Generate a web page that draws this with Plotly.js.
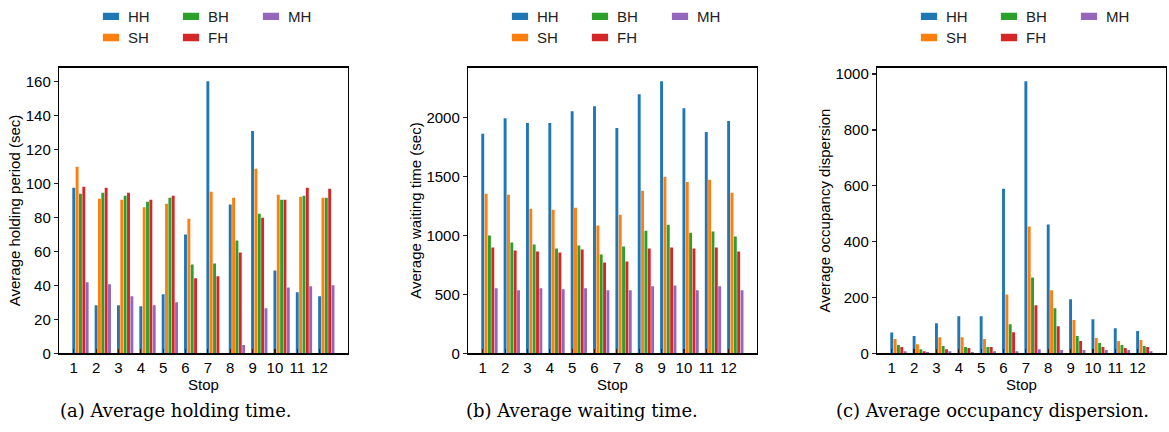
<!DOCTYPE html>
<html>
<head>
<meta charset="utf-8">
<script src="https://cdn.plot.ly/plotly-3.0.1.min.js"></script>
<style>
  html, body { margin: 0; padding: 0; background: #fff; }
  #chart { width: 1169px; height: 432px; }
  /* wide, flat legend swatches placed just before the label */
  #chart .legendpoints path { transform: translate(23px, 0) scale(1.35, 0.62); }
</style>
</head>
<body>
<div id="chart"></div>
<script>
// Stops along the route
const stops = [1, 2, 3, 4, 5, 6, 7, 8, 9, 10, 11, 12];
const stopLabels = ['1', '2', '3', '4', '5', '6', '7', '8', '9', '10', '11', '12'];

// Holding strategies
const strategies = ['HH', 'SH', 'BH', 'FH', 'MH'];
const colors = ['#1f77b4', '#ff7f0e', '#2ca02c', '#d62728', '#9467bd'];

// (a) Average holding period (sec)
const holdHH = [97.4, 28.3, 28.3, 27.7, 34.7, 69.9, 160.0, 87.6, 130.7, 48.8, 35.9, 33.6];
const holdSH = [109.7, 90.9, 90.3, 85.9, 88.0, 79.2, 95.0, 91.5, 108.5, 93.3, 92.1, 91.5];
const holdBH = [93.9, 94.4, 92.7, 89.2, 91.5, 52.3, 52.9, 66.3, 82.1, 90.3, 92.7, 91.5];
const holdFH = [98.0, 97.4, 94.4, 90.3, 92.7, 44.1, 45.3, 59.3, 79.8, 90.3, 97.4, 96.8];
const holdMH = [41.8, 40.6, 33.6, 28.3, 30.0, 0, 0, 4.9, 26.5, 38.8, 39.4, 40.0];

// (b) Average waiting time (sec)
const waitHH = [1865, 1997, 1955, 1955, 2056, 2099, 1913, 2200, 2310, 2082, 1879, 1972];
const waitSH = [1355, 1346, 1228, 1220, 1237, 1085, 1177, 1380, 1499, 1456, 1473, 1363];
const waitBH = [1000, 941, 924, 890, 915, 839, 907, 1042, 1093, 1025, 1034, 992];
const waitFH = [899, 873, 865, 856, 882, 772, 780, 890, 899, 890, 899, 865];
const waitMH = [552, 535, 552, 544, 552, 535, 535, 569, 577, 535, 569, 535];

// (c) Average occupancy dispersion
const dispHH = [75, 62, 108, 133, 133, 589, 974, 461, 194, 122, 90, 80];
const dispSH = [51, 33, 58, 58, 51, 211, 454, 226, 119, 55, 44, 47.5];
const dispBH = [30, 15, 26, 22.6, 22.6, 104.5, 272, 161.5, 62, 37, 30, 26];
const dispFH = [22.6, 8, 15, 19, 22.6, 76, 172, 97, 44, 22.6, 19, 22.6];
const dispMH = [8, 5, 8, 5, 8, 8, 15, 12, 12, 12, 12, 8];

const panels = [
  { series: [holdHH, holdSH, holdBH, holdFH, holdMH], ytitle: 'Average holding period (sec)',
    caption: '(a) Average holding time.', ticks: [0, 20, 40, 60, 80, 100, 120, 140, 160] },
  { series: [waitHH, waitSH, waitBH, waitFH, waitMH], ytitle: 'Average waiting time (sec)',
    caption: '(b) Average waiting time.', ticks: [0, 500, 1000, 1500, 2000] },
  { series: [dispHH, dispSH, dispBH, dispFH, dispMH], ytitle: 'Average occupancy dispersion',
    caption: '(c) Average occupancy dispersion.', ticks: [0, 200, 400, 600, 800, 1000] }
];

// Figure geometry (paper fractions)
const W = 1169, H = 432;
const xDomains = [[59 / W, 348 / W], [468 / W, 757 / W], [877 / W, 1166 / W]];
const yDomain = [1 - 353 / H, 1 - 66 / H];
const legendTextX = [128, 537, 946];
const legendRowY = [14.7, 36];
const captionX = [176, 582, 992];

const step = 0.15;      // spacing between bars of one stop
const barW = 0.13;      // drawn bar width
const font = 'Liberation Sans, Arial, sans-serif';
const fs = 15;

// Legend layout: first row HH, BH, MH; second row SH, FH
const legendRow = [0, 1, 0, 1, 0];
const legendRank = [1, 1, 2, 2, 3];

const traces = [];
const layout = {
  width: W, height: H,
  margin: { l: 0, r: 0, t: 0, b: 0 },
  paper_bgcolor: '#ffffff', plot_bgcolor: '#ffffff',
  barmode: 'overlay',
  showlegend: true,
  font: { family: font, size: fs, color: '#000' },
  annotations: []
};

panels.forEach((p, pi) => {
  const xa = pi === 0 ? 'x' : 'x' + (pi + 1);
  const ya = pi === 0 ? 'y' : 'y' + (pi + 1);
  const legA = pi * 2 === 0 ? 'legend' : 'legend' + (pi * 2 + 1);
  const legB = 'legend' + (pi * 2 + 2);
  p.series.forEach((vals, k) => {
    traces.push({
      type: 'bar',
      name: strategies[k],
      x: stops,
      y: vals,
      xaxis: xa, yaxis: ya,
      width: barW,
      offset: k * step - barW / 2,
      marker: { color: colors[k], line: { width: 0 } },
      opacity: 1,
      legend: legendRow[k] === 0 ? legA : legB,
      legendrank: legendRank[k],
      hoverinfo: 'x+y+name'
    });
  });

  const ymax = Math.max(...p.series.flat()) * 1.05;
  const axName = pi === 0 ? '' : String(pi + 1);
  layout['xaxis' + axName] = {
    domain: xDomains[pi], anchor: ya,
    range: [0.34, 13.27],
    tickmode: 'array', tickvals: stops, ticktext: stopLabels,
    ticks: 'inside', ticklen: 4, tickwidth: 1.2, tickcolor: '#222',
    showgrid: false, zeroline: false,
    showline: true, linecolor: '#000', linewidth: 1.2, mirror: true,
    tickfont: { family: font, size: fs, color: '#000' },
    title: { text: 'Stop', font: { family: font, size: fs, color: '#000' }, standoff: 3 }
  };
  layout['yaxis' + axName] = {
    domain: yDomain, anchor: xa,
    range: [0, ymax],
    tickmode: 'array', tickvals: p.ticks,
    ticks: 'outside', ticklen: 4, tickwidth: 1.2, tickcolor: '#222',
    showgrid: false, zeroline: false,
    showline: true, linecolor: '#000', linewidth: 1.2, mirror: true,
    tickfont: { family: font, size: fs, color: '#000' },
    title: { text: p.ytitle, font: { family: font, size: fs, color: '#000' }, standoff: 1 }
  };

  [legA, legB].forEach((lg, r) => {
    layout[lg] = {
      orientation: 'h',
      x: (legendTextX[pi] - 40) / W, xanchor: 'left',
      y: 1 - legendRowY[r] / H, yanchor: 'middle',
      entrywidth: 35, entrywidthmode: 'pixels',
      bgcolor: 'rgba(0,0,0,0)', borderwidth: 0,
      font: { family: font, size: fs, color: '#222' },
      traceorder: 'normal', itemclick: false, itemdoubleclick: false
    };
  });

  layout.annotations.push({
    xref: 'paper', yref: 'paper',
    x: captionX[pi] / W, y: 1 - 410 / H,
    xanchor: 'center', yanchor: 'middle',
    text: p.caption, showarrow: false,
    font: { family: 'DejaVu Serif, serif', size: 18, color: '#000' }
  });
});

Plotly.newPlot('chart', traces, layout, { displayModeBar: false, staticPlot: true });
</script>
</body>
</html>
